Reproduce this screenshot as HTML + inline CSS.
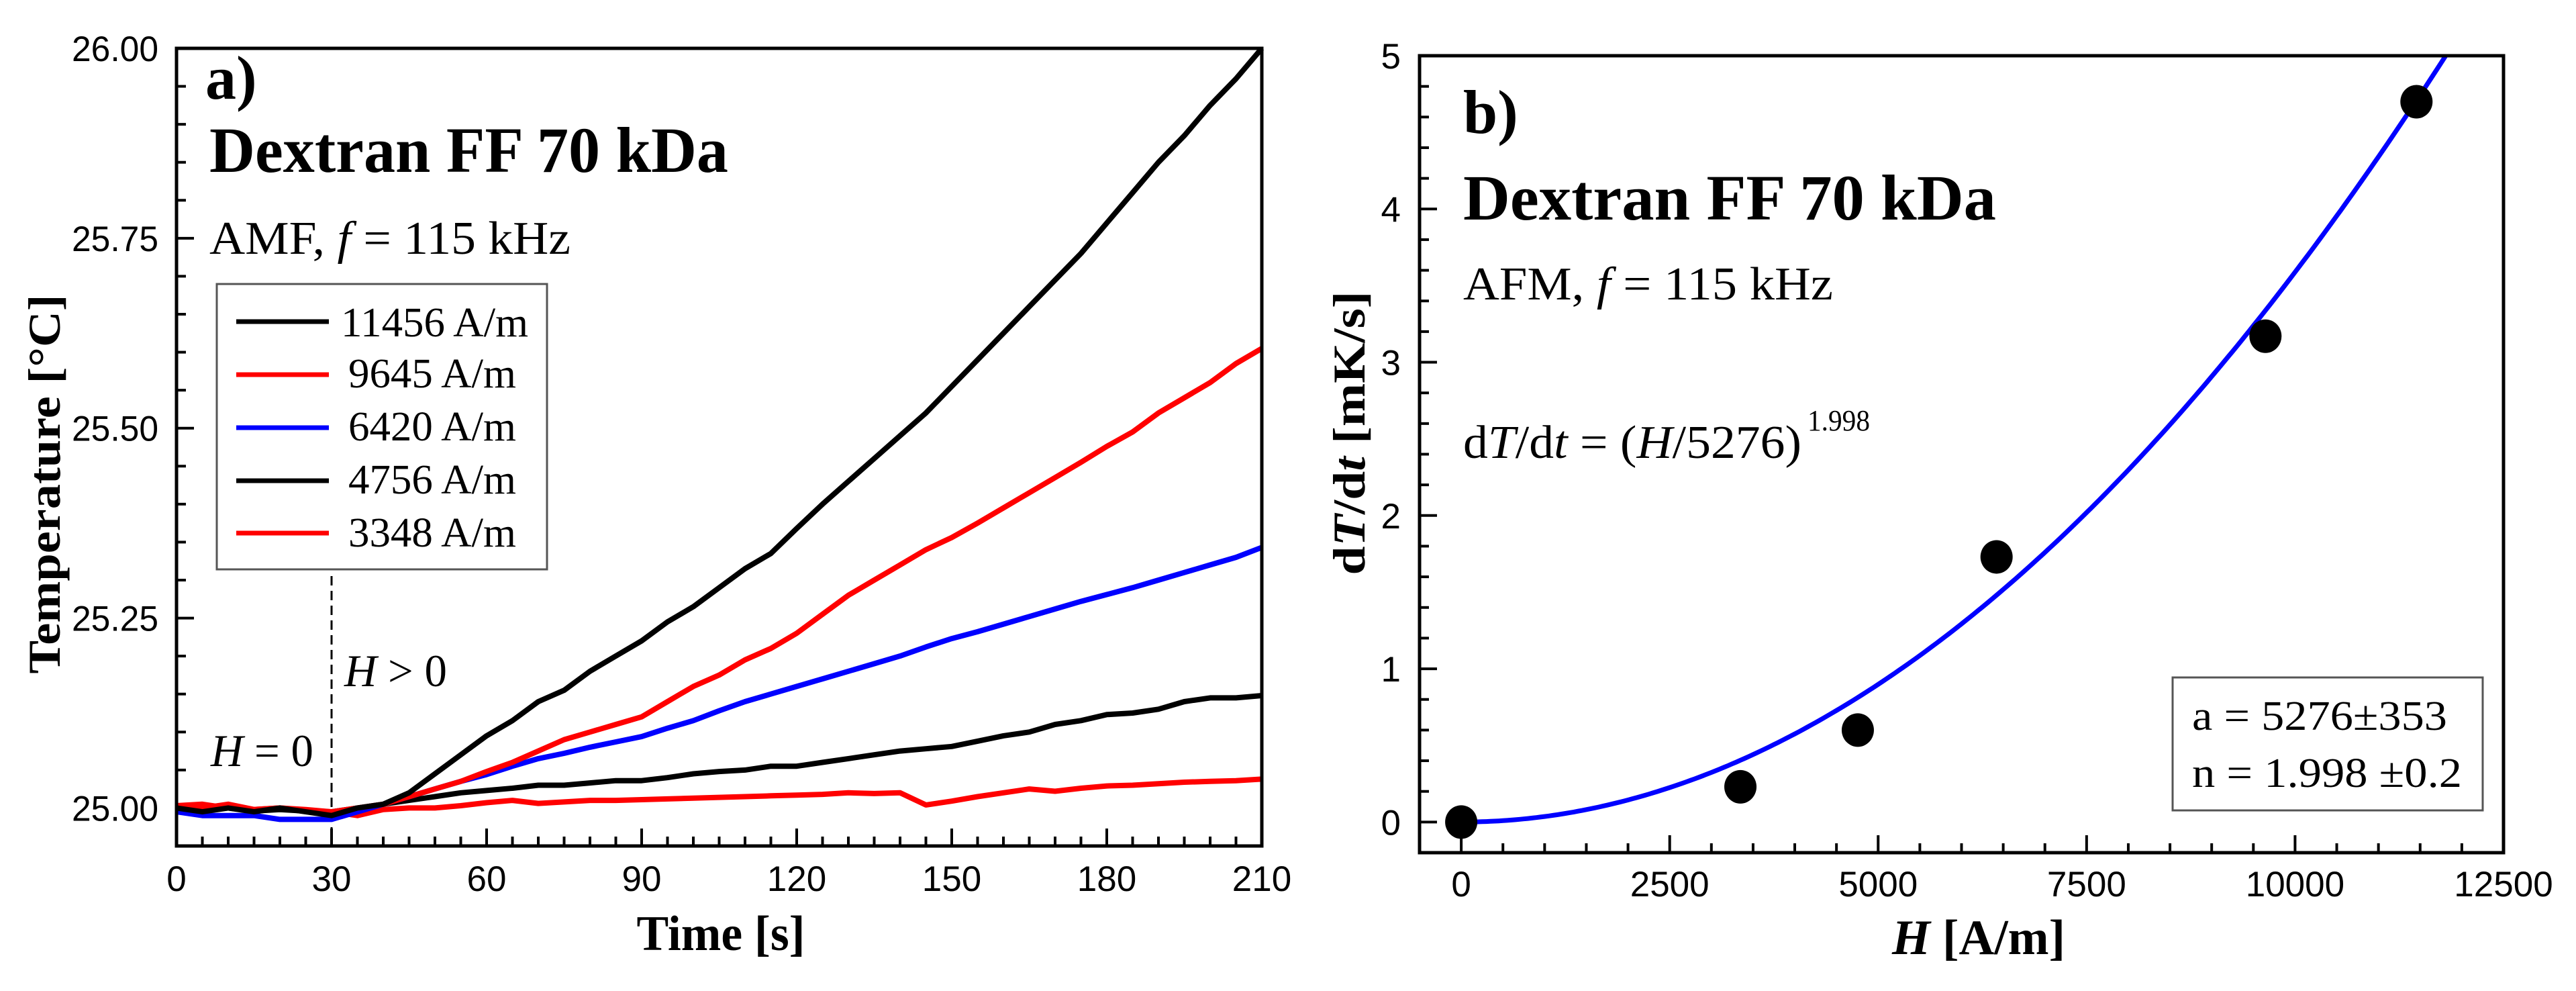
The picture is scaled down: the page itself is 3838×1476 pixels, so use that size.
<!DOCTYPE html>
<html><head><meta charset="utf-8">
<style>
html,body{margin:0;padding:0;background:#fff;}
svg{display:block;}
.serif{font-family:"Liberation Serif",serif;}
.sans{font-family:"Liberation Sans",sans-serif;}
</style></head>
<body>
<svg id="chart" width="3838" height="1476" viewBox="0 0 3838 1476" xmlns="http://www.w3.org/2000/svg">
<rect x="0" y="0" width="3838" height="1476" fill="#fff"/>
<g id="pa"></g>
<g id="pb"></g>
</svg>
<script>
const times = [0,5,10,15,20,25,30,35,40,45,50,55,60,65,70,75,80,85,90,95,100,105,110,115,120,125,130,135,140,145,150,155,160,165,170,175,180,185,190,195,200,205,210];
const s11456 = [25.0,24.995,25.0,24.995,25.0,24.995,24.99,25.0,25.005,25.02,25.045,25.07,25.095,25.115,25.14,25.155,25.18,25.2,25.22,25.245,25.265,25.29,25.315,25.335,25.368,25.4,25.43,25.46,25.49,25.52,25.555,25.59,25.625,25.66,25.695,25.73,25.77,25.81,25.85,25.885,25.925,25.96,26.0];
const s9645 = [25.003,25.0,25.005,24.998,25.0,24.997,24.995,25.0,25.005,25.015,25.025,25.035,25.048,25.06,25.075,25.09,25.1,25.11,25.12,25.14,25.16,25.175,25.195,25.21,25.23,25.255,25.28,25.3,25.32,25.34,25.356,25.375,25.395,25.415,25.435,25.455,25.476,25.495,25.52,25.54,25.56,25.585,25.605];
const s6420 = [24.995,24.99,24.99,24.99,24.985,24.985,24.985,24.995,25.005,25.015,25.025,25.035,25.044,25.055,25.065,25.072,25.08,25.087,25.094,25.105,25.115,25.128,25.14,25.15,25.16,25.17,25.18,25.19,25.2,25.212,25.223,25.232,25.242,25.252,25.262,25.272,25.281,25.29,25.3,25.31,25.32,25.33,25.343];
const s4756 = [25.0,24.997,25.0,24.996,24.998,24.996,24.995,25.0,25.005,25.01,25.015,25.02,25.023,25.026,25.03,25.03,25.033,25.036,25.036,25.04,25.045,25.048,25.05,25.055,25.055,25.06,25.065,25.07,25.075,25.078,25.081,25.088,25.095,25.1,25.11,25.115,25.123,25.125,25.13,25.14,25.145,25.145,25.148];
const s3348 = [25.003,25.005,25.0,24.998,25.0,24.998,24.995,24.99,24.998,25.0,25.0,25.003,25.007,25.01,25.006,25.008,25.01,25.01,25.011,25.012,25.013,25.014,25.015,25.016,25.017,25.018,25.02,25.019,25.02,25.004,25.009,25.015,25.02,25.025,25.022,25.026,25.029,25.03,25.032,25.034,25.035,25.036,25.038];
const legendLabels = ["11456 A/m","9645 A/m","6420 A/m","4756 A/m","3348 A/m"];
const xTicksA = [0,30,60,90,120,150,180,210];
const yTicksA = ["25.00","25.25","25.50","25.75","26.00"];
const fieldH = [0,3348,4756,6420,9645,11456];
const rateB = [0,0.23,0.6,1.73,3.17,4.7];
const fitA = 5276, fitN = 1.998;
const xTicksB = [0,2500,5000,7500,10000,12500];
const yTicksB = [0,1,2,3,4,5];

const NS="http://www.w3.org/2000/svg";
function mk(parent,tag,attrs,text){const e=document.createElementNS(NS,tag);for(const k in attrs)e.setAttribute(k,attrs[k]);if(text!==undefined)e.textContent=text;parent.appendChild(e);return e;}
const LA='spacingAndGlyphs';

// ---------- Panel A ----------
const pa=document.getElementById('pa');
const AL=263,AR=1880,AT=72,AB=1260;
const ax=t=>AL+(t-0)/(210-0)*(AR-AL);
const ay=v=>AB-(v-24.95)/(26.0-24.95)*(AB-AT);
for(let t=0;t<=210;t+=5){const major=t%30===0;const l=mk(pa,'line',{x1:ax(t),x2:ax(t),y1:AB,y2:AB-(major?26:14),stroke:'#000','stroke-width':4});

}
for(let i=0;i<=21;i++){const v=24.95+i*0.05;const major=Math.abs((v-25)/0.25-Math.round((v-25)/0.25))<1e-6;const l=mk(pa,'line',{x1:AL,x2:AL+(major?26:14),y1:ay(v),y2:ay(v),stroke:'#000','stroke-width':4});

}
xTicksA.forEach(t=>{const e=mk(pa,'text',{x:ax(t),y:1327,'text-anchor':'middle','font-size':53,class:'sans'},String(t));

});
yTicksA.forEach(s=>{const e=mk(pa,'text',{x:236,y:ay(parseFloat(s))+19,'text-anchor':'end','font-size':53,class:'sans',textLength:129,lengthAdjust:LA},s);

});
{const e=mk(pa,'line',{x1:ax(30),x2:ax(30),y1:858,y2:AB,stroke:'#000','stroke-width':3,'stroke-dasharray':'14,8'});

}
const seriesA=[[s3348,'#ff0000','series-3348'],[s4756,'#000','series-4756'],[s6420,'#0000ff','series-6420'],[s9645,'#ff0000','series-9645'],[s11456,'#000','series-11456']];
seriesA.forEach(([arr,c,n])=>{const d=arr.map((v,i)=>(i?'L':'M')+ax(times[i]).toFixed(1)+','+ay(v).toFixed(1)).join(' ');
const e=mk(pa,'path',{d:d,fill:'none',stroke:c,'stroke-width':8,'stroke-linejoin':'round'});

});
{const e=mk(pa,'rect',{x:AL,y:AT,width:AR-AL,height:AB-AT,fill:'none',stroke:'#000','stroke-width':5});

}
{let e=mk(pa,'text',{x:306,y:147,'font-size':92,'font-weight':'bold',class:'serif'},'a)');


e=mk(pa,'text',{x:312,y:256,'font-size':96,'font-weight':'bold',class:'serif',textLength:773,lengthAdjust:LA},'Dextran FF 70 kDa');


e=mk(pa,'text',{x:312,y:378,'font-size':70,class:'serif',textLength:538,lengthAdjust:LA});


e.innerHTML='AMF, <tspan font-style="italic">f</tspan> = 115 kHz';
e=mk(pa,'text',{x:513,y:1022,'font-size':68,class:'serif',textLength:153,lengthAdjust:LA});


e.innerHTML='<tspan font-style="italic">H</tspan> &gt; 0';
e=mk(pa,'text',{x:314,y:1141,'font-size':68,class:'serif',textLength:153,lengthAdjust:LA});


e.innerHTML='<tspan font-style="italic">H</tspan> = 0';
e=mk(pa,'text',{x:1074,y:1415,'font-size':74,'font-weight':'bold',class:'serif','text-anchor':'middle',textLength:251,lengthAdjust:LA},'Time [s]');


e=mk(pa,'text',{x:0,y:0,'font-size':68,'font-weight':'bold',class:'serif','text-anchor':'middle',textLength:565,lengthAdjust:LA,transform:'translate(89,721) rotate(-90)'},'Temperature [°C]');

}
{const lg=mk(pa,'g',{});


const b=mk(lg,'rect',{x:323,y:423,width:492,height:425,fill:'#fff',stroke:'#555','stroke-width':3});


const cols=['#000','#ff0000','#0000ff','#000','#ff0000'];const ly=[479,558,637,716,794];const tb=[501,577,656,735,814];
legendLabels.forEach((lab,i)=>{const g=mk(lg,'g',{});


mk(g,'line',{x1:352,x2:490,y1:ly[i],y2:ly[i],stroke:cols[i],'stroke-width':7});
mk(g,'text',{x:i===0?508:519,y:tb[i],'font-size':62,class:'serif',textLength:i===0?279:250,lengthAdjust:LA},lab);});}

// ---------- Panel B ----------
const pb=document.getElementById('pb');
const BL=2115,BR=3730,BT=83,BB=1270;
const bx=h=>BL+(h+500)/(12500+500)*(BR-BL);
const by=v=>BB-(v+0.2)/(5+0.2)*(BB-BT);
for(let h=0;h<=12500;h+=500){const major=h%2500===0;const l=mk(pb,'line',{x1:bx(h),x2:bx(h),y1:BB,y2:BB-(major?26:14),stroke:'#000','stroke-width':4});

}
for(let i=0;i<=25;i++){const v=i*0.2;const major=i%5===0;const l=mk(pb,'line',{x1:BL,x2:BL+(major?26:14),y1:by(v),y2:by(v),stroke:'#000','stroke-width':4});

}
xTicksB.forEach(t=>{const e=mk(pb,'text',{x:bx(t),y:1335,'text-anchor':'middle','font-size':53,class:'sans'},String(t));

});
yTicksB.forEach(t=>{const e=mk(pb,'text',{x:2087,y:by(t)+19,'text-anchor':'end','font-size':53,class:'sans'},String(t));

});
{let pts=[];for(let h=0;h<=12500;h+=50){const v=Math.pow(h/fitA,fitN);if(v>5.0){const hh=fitA*Math.pow(5,1/fitN);pts.push([hh,5]);break;}pts.push([h,v]);}
const d=pts.map((p,i)=>(i?'L':'M')+bx(p[0]).toFixed(1)+','+by(p[1]).toFixed(1)).join(' ');
const e=mk(pb,'path',{d:d,fill:'none',stroke:'#0000ff','stroke-width':7});

}
fieldH.forEach((h,i)=>{const c=mk(pb,'ellipse',{cx:bx(h),cy:by(rateB[i]),rx:24,ry:25,fill:'#000'});

});
{const e=mk(pb,'rect',{x:BL,y:BT,width:BR-BL,height:BB-BT,fill:'none',stroke:'#000','stroke-width':5});

}
{let e=mk(pb,'text',{x:2180,y:198,'font-size':92,'font-weight':'bold',class:'serif'},'b)');


e=mk(pb,'text',{x:2180,y:327,'font-size':96,'font-weight':'bold',class:'serif',textLength:794,lengthAdjust:LA},'Dextran FF 70 kDa');


e=mk(pb,'text',{x:2180,y:446,'font-size':70,class:'serif',textLength:551,lengthAdjust:LA});


e.innerHTML='AFM, <tspan font-style="italic">f</tspan> = 115 kHz';
e=mk(pb,'text',{x:2180,y:682,'font-size':70,class:'serif'});


e.innerHTML='<tspan textLength="504" lengthAdjust="spacingAndGlyphs">d<tspan font-style="italic">T</tspan>/d<tspan font-style="italic">t</tspan> = (<tspan font-style="italic">H</tspan>/5276)</tspan>';
e=mk(pb,'text',{x:2693,y:641,'font-size':44,class:'serif',textLength:93,lengthAdjust:LA},'1.998');


const bx2=mk(pb,'rect',{x:3237,y:1009,width:462,height:198,fill:'#fff',stroke:'#555','stroke-width':3});


e=mk(pb,'text',{x:3266,y:1087,'font-size':62,class:'serif',textLength:380,lengthAdjust:LA},'a = 5276±353');


e=mk(pb,'text',{x:3266,y:1172,'font-size':62,class:'serif',textLength:402,lengthAdjust:LA},'n = 1.998 ±0.2');


e=mk(pb,'text',{x:2948,y:1421,'font-size':74,'font-weight':'bold',class:'serif','text-anchor':'middle',textLength:258,lengthAdjust:LA});


e.innerHTML='<tspan font-style="italic">H</tspan> [A/m]';
e=mk(pb,'text',{x:0,y:0,'font-size':68,'font-weight':'bold',class:'serif','text-anchor':'middle',textLength:423,lengthAdjust:LA,transform:'translate(2033,645) rotate(-90)'});


e.innerHTML='d<tspan font-style="italic">T</tspan>/d<tspan font-style="italic">t</tspan>  [mK/s]';}
</script>
</body></html>
